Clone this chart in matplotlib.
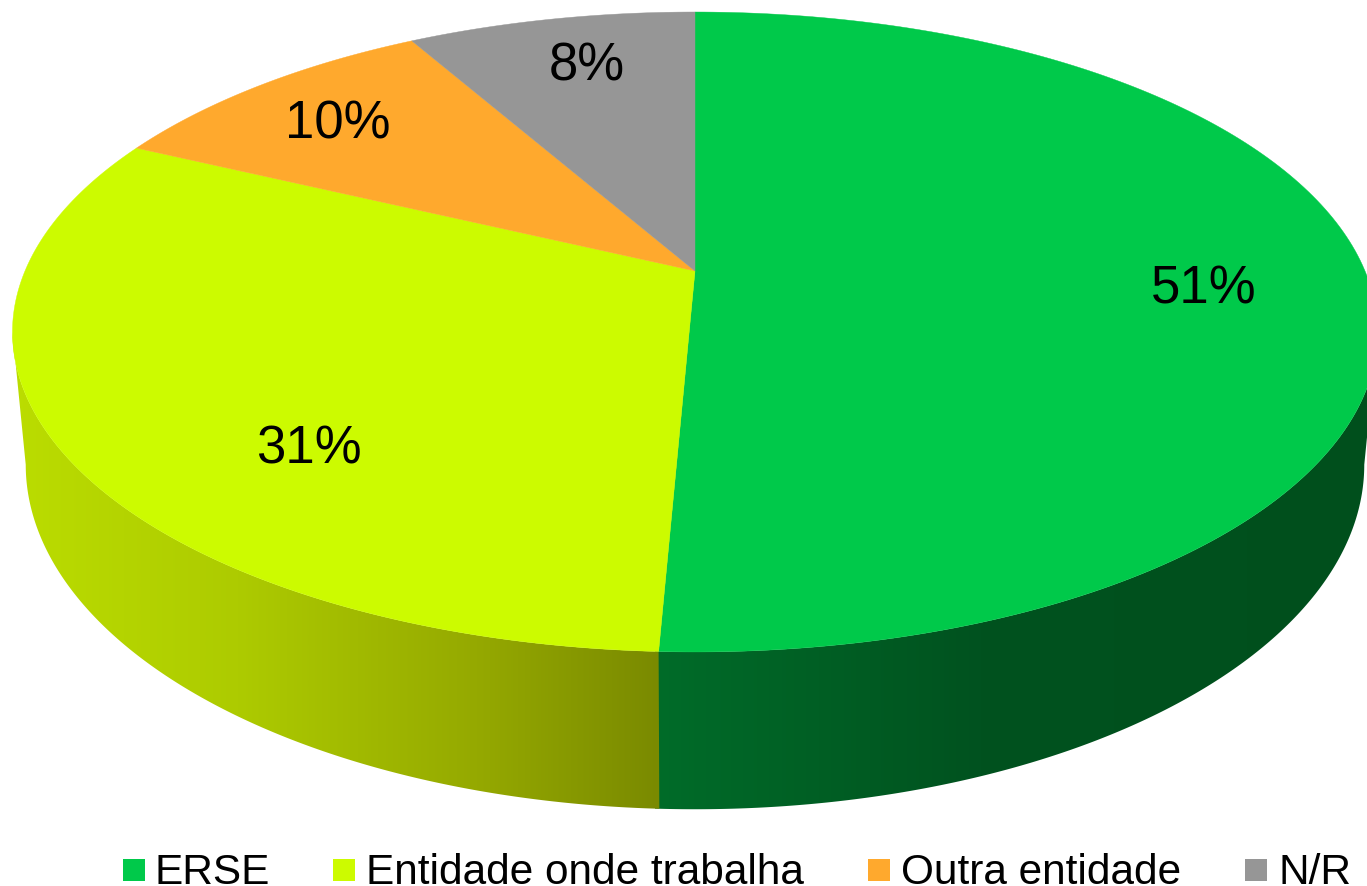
#!/usr/bin/env python3
"""3D style pie chart, drawn by hand since matplotlib has no perspective pie."""

import numpy as np
import matplotlib
matplotlib.use('Agg')
import matplotlib.pyplot as plt
from matplotlib.colors import LinearSegmentedColormap
from matplotlib.patches import Polygon, Rectangle

plt.rcParams['font.family'] = ['Liberation Sans', 'DejaVu Sans']

categories = ['ERSE', 'Entidade onde trabalha', 'Outra entidade', 'N/R']
shares = [50.7, 31.4, 9.7, 8.2]

colors = ['#00C94A', '#CCFB00', '#FFA92D', '#969696']
label_x = [1204, 309, 338, 587]
label_baseline = [303, 463, 138, 80]
legend_box_x = [123, 333, 868, 1245]
legend_text_x = [155, 366, 901, 1278]

# perspective of the disc, in pixels
CX = 695
C = 0.1906
TOP = dict(r=670, a=-256.7, b=271)
BOTTOM = dict(r=657, a=-256.0, b=399)


def project(theta, rad, face):
    """Pie angle (clockwise from 12 o'clock, degrees) and radius to pixels."""
    t = np.radians(theta)
    u, v = rad * np.sin(t), rad * np.cos(t)
    w = 1 + C * v
    return np.column_stack([CX + face['r'] * u / w, (face['a'] * v + face['b']) / w])


def rim(start, end, face):
    return project(np.linspace(start, end, 200), 1.0, face)


def draw_wall(ax, start, end, stops, x0, x1):
    """Side wall between the two rims, filled with a left-right gradient."""
    pts = np.vstack([rim(start, end, TOP), rim(end, start, BOTTOM)])
    patch = Polygon(pts, closed=True, facecolor='none', edgecolor='none')
    ax.add_patch(patch)
    cmap = LinearSegmentedColormap.from_list('wall', stops)
    img = ax.imshow(np.linspace(0, 1, 512)[None, :], cmap=cmap, aspect='auto',
                    extent=[x0, x1, 886, 0], zorder=1, interpolation='bilinear')
    img.set_clip_path(patch)


fig = plt.figure(figsize=(13.67, 8.86), dpi=100)
ax = fig.add_axes([0, 0, 1, 1])

edges = np.concatenate([[0], np.cumsum(shares)]) / np.sum(shares) * 360

# tangent angles where the silhouette leaves the rims
right_tangent = 180 - np.degrees(np.arccos(C))
left_tangent = 180 + np.degrees(np.arccos(C))

# green runs a bit past the seam, yellow goes over it (avoids a white hairline)
draw_wall(ax, right_tangent, edges[1] + 0.5,
          [(0.0, '#006C29'), (0.45, '#00521F'), (1.0, '#004F1C')], 655, 1380)
draw_wall(ax, edges[1], left_tangent,
          [(0.0, '#BBDD00'), (0.35, '#ADCB00'), (0.72, '#95A900'), (1.0, '#7A8A00')],
          10, 660)

for i, col in enumerate(colors):
    pts = np.vstack([[[CX, TOP['b']]], rim(edges[i], edges[i + 1], TOP)])
    ax.add_patch(Polygon(pts, closed=True, facecolor=col, edgecolor=col,
                         linewidth=0.3, zorder=2))
    ax.text(label_x[i], label_baseline[i], f'{shares[i]:.0f}%', fontsize=38,
            color='black', ha='center', va='baseline', zorder=3)

# legend row along the bottom edge
for i, name in enumerate(categories):
    ax.add_patch(Rectangle((legend_box_x[i], 859), 22, 22, facecolor=colors[i],
                           edgecolor='none', zorder=3))
    ax.text(legend_text_x[i], 884, name, fontsize=30.5, color='black',
            ha='left', va='baseline', zorder=3)

ax.set_xlim(0, 1367)
ax.set_ylim(886, 0)
ax.axis('off')

fig.savefig('out.png', dpi=100, facecolor='white')
